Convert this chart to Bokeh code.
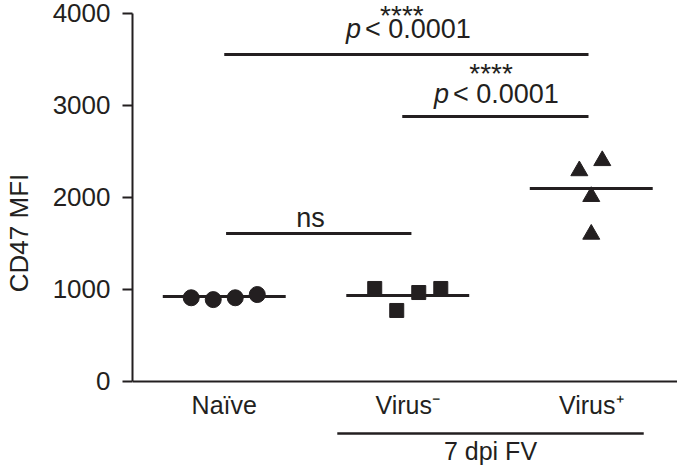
from bokeh.plotting import figure
from bokeh.models import Range1d, Span, LinearAxis, FixedTicker
from bokeh.core.properties import value
from bokeh.embed import file_html
from bokeh.resources import INLINE

# ---- data ----
categories = ["Naïve", "Virus⁻", "Virus⁺"]
naive_vals = [910, 890, 910, 945]
virus_neg_vals = [1011, 772, 967, 1011]
virus_pos_vals = [2290, 2400, 2010, 1600]
group_means = [924, 935, 2098]
jitter_4 = [-0.18, -0.06, 0.06, 0.18]
jitter_tri = [-0.065, 0.06, 0.0, 0.0]
y_ticks = [0, 1000, 2000, 3000, 4000]

# significance brackets
sig_x0 = [1.0, 1.97, 1.01]
sig_x1 = [2.985, 2.985, 2.02]
sig_y = [3554, 2880, 1609]
p_text_x = [1.99, 2.47]
p_text_y = [3829, 3125]
star_x = [1.968, 2.454]
star_y = [3978, 3350]
ns_x, ns_y = 1.47, 1779
group_label = "7 dpi FV"
group_span = (1.616, 3.286)

FONT = "Liberation Sans"
INK = "#231f20"

p = figure(width=677, height=465, output_backend="svg", toolbar_location=None,
           x_range=Range1d(0.5, 3.470), y_range=Range1d(-913, 4141),
           x_axis_location=None, y_axis_location=None,
           min_border_left=128, min_border_right=0, min_border_top=0, min_border_bottom=0)
p.outline_line_color = None
p.xgrid.visible = False
p.ygrid.visible = False
p.background_fill_color = "white"
p.border_fill_color = "white"

yax = LinearAxis(ticker=FixedTicker(ticks=y_ticks), bounds=(0, 4000))
yax.axis_label = "CD47 MFI"
yax.axis_label_text_font = FONT
yax.axis_label_text_font_size = "26px"
yax.axis_label_text_font_style = "normal"
yax.axis_label_text_color = INK
yax.axis_label_standoff = 16
yax.major_label_text_font = FONT
yax.major_label_text_font_size = "26px"
yax.major_label_text_color = INK
yax.major_label_standoff = 12
yax.major_tick_out = 10
yax.major_tick_in = 0
yax.minor_tick_out = 0
yax.minor_tick_in = 0
yax.axis_line_width = 2
yax.axis_line_color = INK
yax.major_tick_line_width = 2
yax.major_tick_line_color = INK
p.add_layout(yax, "left")

# x axis line at y = 0
p.add_layout(Span(location=0, dimension="width", line_color=INK, line_width=2))

# points
xs_idx = [1, 2, 3]
p.scatter([1 + j for j in jitter_4], naive_vals, marker="circle", size=16,
          fill_color=INK, line_color=INK)
p.scatter([2 + j for j in jitter_4], virus_neg_vals, marker="square", size=14,
          fill_color=INK, line_color=INK)
p.scatter([3 + j for j in jitter_tri], virus_pos_vals, marker="triangle", size=17,
          fill_color=INK, line_color=INK)

# mean lines
p.segment(x0=[x - 0.335 for x in xs_idx], x1=[x + 0.335 for x in xs_idx],
          y0=group_means, y1=group_means, line_color=INK, line_width=3)

# significance lines
p.segment(x0=sig_x0, x1=sig_x1, y0=sig_y, y1=sig_y, line_color=INK, line_width=3)

p.text(x=p_text_x, y=p_text_y, text=["p", "p"], text_align="right", text_baseline="middle",
       x_offset=-45, text_font=value(FONT), text_font_style="italic",
       text_font_size="27px", text_color=INK)
p.text(x=p_text_x, y=p_text_y, text=["< 0.0001", "< 0.0001"], text_align="left",
       text_baseline="middle", x_offset=-41, text_font=value(FONT),
       text_font_size="27px", text_color=INK)
p.text(x=star_x, y=star_y, text=["****", "****"], text_align="center",
       text_baseline="middle", text_font=value(FONT), text_font_size="28px",
       text_color=INK)
p.text(x=[ns_x], y=[ns_y], text=["ns"], text_align="center", text_baseline="middle",
       text_font=value(FONT), text_font_size="27px", text_color=INK)

# category labels
p.text(x=xs_idx, y=[-255] * 3, text=categories, text_align="center",
       text_baseline="middle", text_font=value(FONT), text_font_size="25px",
       text_color=INK)

# group bracket under Virus- / Virus+
p.segment(x0=[group_span[0]], x1=[group_span[1]], y0=[-565], y1=[-565],
          line_color=INK, line_width=2.5)
p.text(x=[(group_span[0] + group_span[1]) / 2], y=[-750], text=[group_label],
       text_align="center", text_baseline="middle", text_font=value(FONT),
       text_font_size="25px", text_color=INK)

open("out.html", "w").write(file_html(p, INLINE))
